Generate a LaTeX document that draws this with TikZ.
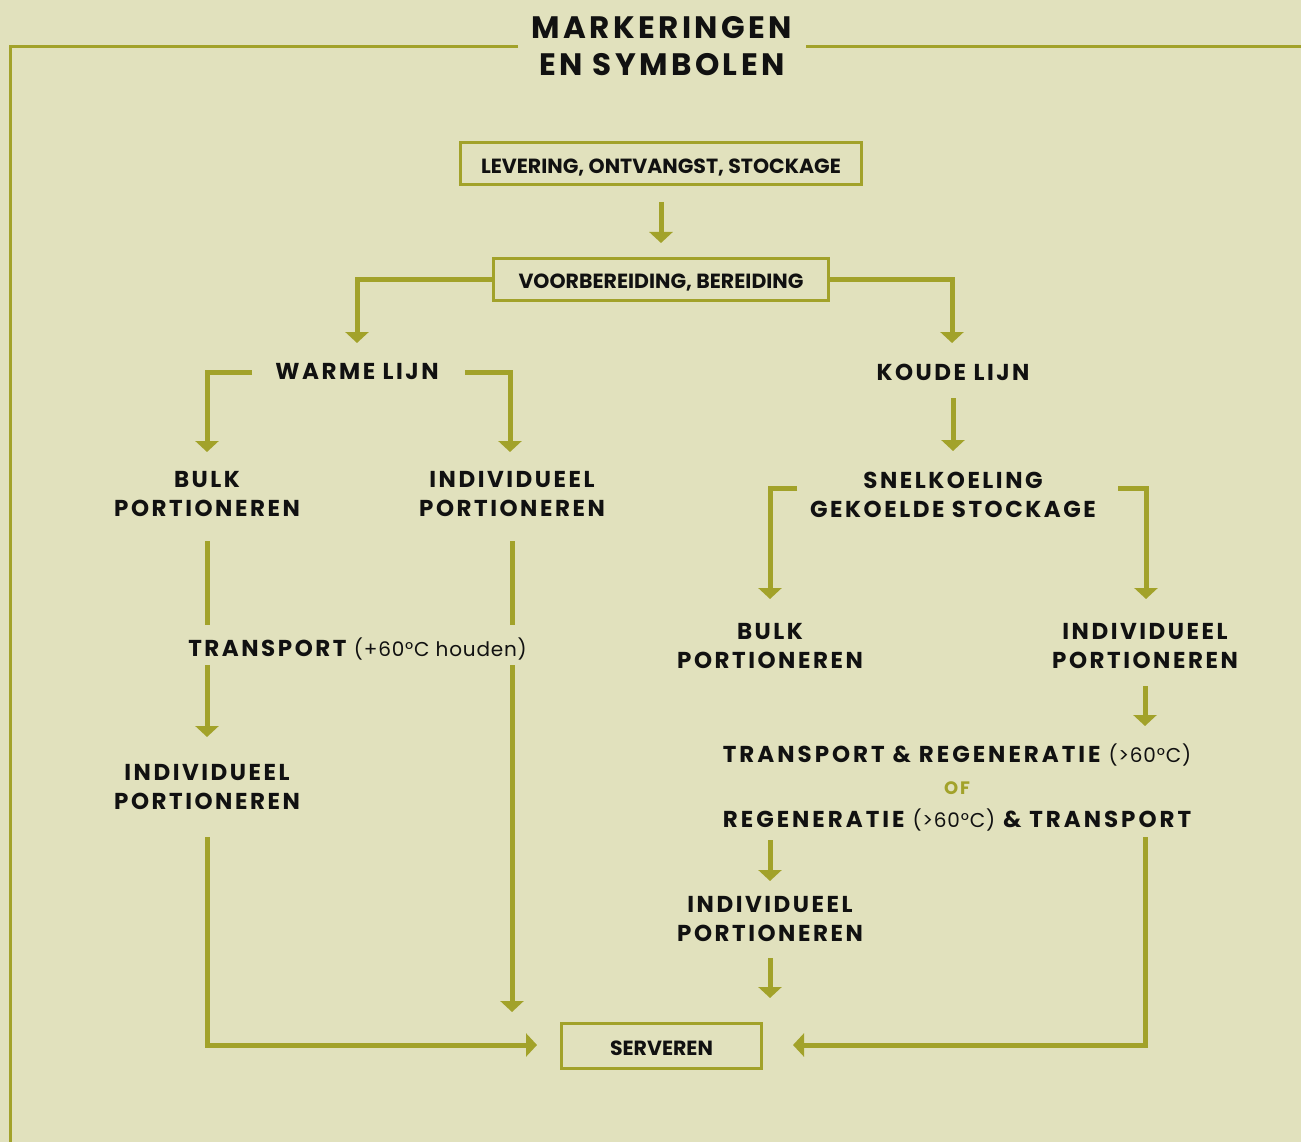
\documentclass[tikz,border=0pt]{standalone}
\usepackage{fontspec}
\setmainfont{Poppins}
\newfontfamily\hdfont{Poppins}[LetterSpace=11]
\newfontfamily\hdwfont{Poppins}[LetterSpace=13]
\newfontfamily\rgfont{Poppins}[LetterSpace=4]
\newfontfamily\bxfont{Poppins}
\usetikzlibrary{arrows.meta}
\definecolor{bg}{HTML}{E1E1BD}
\definecolor{ol}{HTML}{A2A22A}
\definecolor{ink}{HTML}{111111}
\newcommand{\paren}[1]{{\rgfont\mdseries\fontsize{20}{24}\selectfont #1}}
\begin{document}
\begin{tikzpicture}[x=1pt,y=-1pt,
  hd/.style={font=\hdfont\bfseries\fontsize{23}{29}\selectfont, align=center, inner sep=0pt, text=ink},
  hdw/.style={hd, font=\hdwfont\bfseries\fontsize{23}{29}\selectfont},
  bx/.style={draw=ol, line width=3pt, inner sep=0pt, text height=18.5pt, text depth=0pt, font=\bxfont\bfseries\fontsize{20.5}{24}\selectfont, text=ink},
  ln/.style={draw=ol, line width=5pt},
  ar/.style={ln, -{Triangle[width=23pt,length=11pt]}},
  fr/.style={draw=ol, line width=3pt}]
\fill[bg] (0,0) rectangle (1301,1142);
\useasboundingbox (0,0) rectangle (1301,1142);
% frame
\draw[fr] (518,47) -- (10,47) -- (10,1150);
\draw[fr] (806,47) -- (1310,47);
\node[hd, font=\hdfont\bfseries\fontsize{31}{37}\selectfont] (title) at (662,46.5) {MARKERINGEN\\EN SYMBOLEN};
% boxes
\node[bx, minimum width=401pt, minimum height=42pt] (lev) at (661,164) {LEVERING, ONTVANGST, STOCKAGE};
\node[bx, minimum width=335pt, minimum height=42pt] (voor) at (661,279) {VOORBEREIDING, BEREIDING};
\node[bx, minimum width=200pt, minimum height=45pt] (serv) at (661.5,1046) {SERVEREN};
% labels
\node[hd] (warm) at (357,372) {WARME LIJN};
\node[hd] (koud) at (953,372) {KOUDE LIJN};
\node[hd] (bulkW) at (207,494.5) {BULK\\PORTIONEREN};
\node[hd] (indW) at (512,494.5) {INDIVIDUEEL\\PORTIONEREN};
\node[hd] (snel) at (953,494.5) {SNELKOELING\\GEKOELDE STOCKAGE};
\node[hd] (bulkK) at (770,646.5) {BULK\\PORTIONEREN};
\node[hd] (indK) at (1145,646.5) {INDIVIDUEEL\\PORTIONEREN};
\node[hd, anchor=base] (trW) at (357.5,656) {TRANSPORT \paren{(+60°C houden)}};
\node[hd] (indW2) at (207,787.5) {INDIVIDUEEL\\PORTIONEREN};
\node[hdw, anchor=base] (trK1) at (957,762) {TRANSPORT \& REGENERATIE \paren{(>60°C)}};
\node[hd, text=ol, font=\hdfont\bfseries\fontsize{18}{20}\selectfont] (of) at (957,788) {OF};
\node[hdw, anchor=base] (trK2) at (957,827) {REGENERATIE \paren{(>60°C)} \& TRANSPORT};
\node[hd] (indK2) at (770,919) {INDIVIDUEEL\\PORTIONEREN};
% coordinates
\coordinate (a1s) at (661,202); \coordinate (a1e) at (661,243);
\coordinate (wT) at (357,343); \coordinate (kT) at (952,343);
\coordinate (w1) at (252,372); \coordinate (w1t) at (207,452);
\coordinate (w2) at (465,372); \coordinate (w2t) at (510,452);
\coordinate (k1s) at (953,398); \coordinate (k1e) at (953,451);
\coordinate (s1) at (797,488); \coordinate (s1t) at (770,599);
\coordinate (s2) at (1118,488); \coordinate (s2t) at (1146,599);
\coordinate (ikS) at (1145,686); \coordinate (ikE) at (1145,726);
\coordinate (r1s) at (770,840); \coordinate (r1e) at (770,881);
\coordinate (r2s) at (770,958); \coordinate (r2e) at (770,998);
\coordinate (l1s) at (207,541); \coordinate (l1e) at (207,625);
\coordinate (l2s) at (207,665); \coordinate (l2e) at (207,737);
\coordinate (l3s) at (207,837); \coordinate (l3e) at (537,1045);
\coordinate (m1s) at (512,541); \coordinate (m1e) at (512,625);
\coordinate (m2s) at (512,665); \coordinate (m2e) at (512,1012);
\coordinate (r3s) at (1145,837); \coordinate (r3e) at (793,1045);
% connectors
\draw[ar] (a1s) -- (a1e);
\draw[ar] (voor.west) -| (wT);
\draw[ar] (voor.east) -| (kT);
\draw[ar] (w1) -| (w1t);
\draw[ar] (w2) -| (w2t);
\draw[ar] (k1s) -- (k1e);
\draw[ar] (s1) -| (s1t);
\draw[ar] (s2) -| (s2t);
\draw[ar] (ikS) -- (ikE);
\draw[ar] (r1s) -- (r1e);
\draw[ar] (r2s) -- (r2e);
\draw[ln] (l1s) -- (l1e);
\draw[ar] (l2s) -- (l2e);
\draw[ar] (l3s) |- (l3e);
\draw[ln] (m1s) -- (m1e);
\draw[ar] (m2s) -- (m2e);
\draw[ar] (r3s) |- (r3e);
\end{tikzpicture}
\end{document}
